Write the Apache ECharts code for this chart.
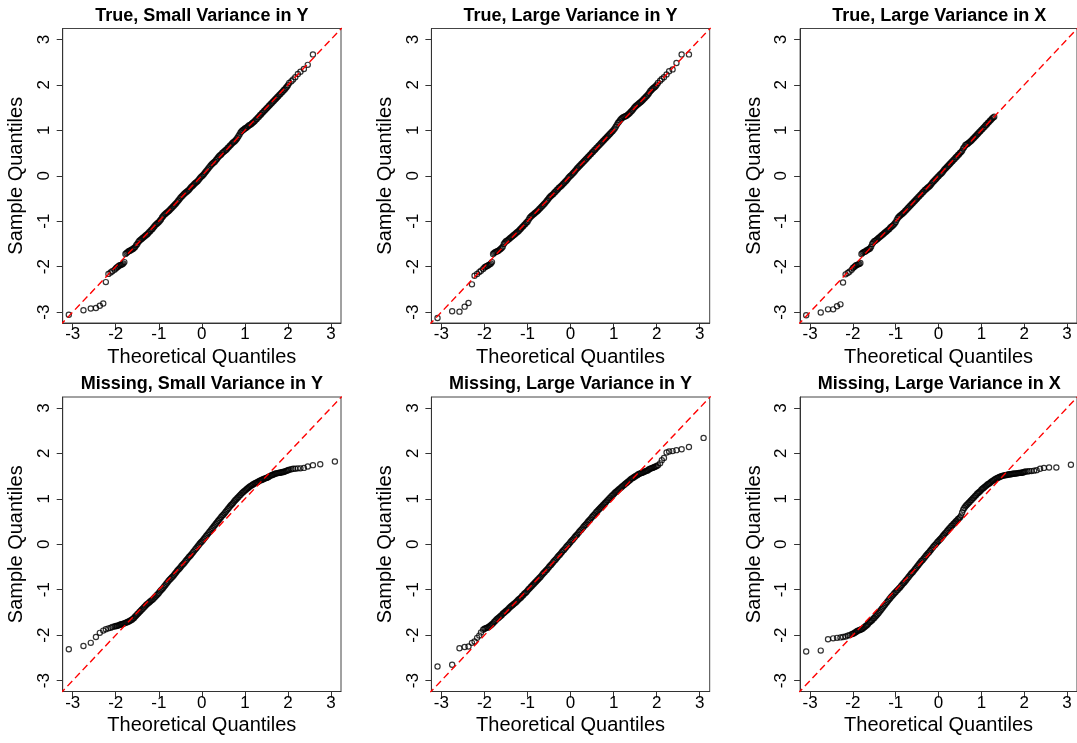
<!DOCTYPE html>
<html><head><meta charset="utf-8">
<script src="https://cdn.jsdelivr.net/npm/echarts@6/dist/echarts.min.js"></script>
<style>html,body{margin:0;padding:0;background:#fff}#c{width:1077px;height:743px}</style>
</head><body><div id="c"></div>
<script>
const panelTitles = [
  'True, Small Variance in Y', 'True, Large Variance in Y', 'True, Large Variance in X',
  'Missing, Small Variance in Y', 'Missing, Large Variance in Y', 'Missing, Large Variance in X'
];
const tickValues = [-3, -2, -1, 0, 1, 2, 3];
const xAxisName = 'Theoretical Quantiles';
const yAxisName = 'Sample Quantiles';

// theoretical quantiles (x positions)
const theo = [
  -3.09,-2.75,-2.58,-2.46,-2.37,-2.29,-2.23,-2.17,-2.12,-2.08,-2.03,
  -2.00,-1.95,-1.90,-1.85,-1.80,-1.75,-1.70,-1.65,-1.60,-1.55,
  -1.50,-1.45,-1.40,-1.35,-1.30,-1.25,-1.20,-1.15,-1.10,-1.05,
  -1.00,-0.95,-0.90,-0.85,-0.80,-0.75,-0.70,-0.65,-0.60,-0.55,
  -0.50,-0.45,-0.40,-0.35,-0.30,-0.25,-0.20,-0.15,-0.10,-0.05,
  0.00,0.05,0.10,0.15,0.20,0.25,0.30,0.35,0.40,0.45,
  0.50,0.55,0.60,0.65,0.70,0.75,0.80,0.85,0.90,0.95,
  1.00,1.05,1.10,1.15,1.20,1.25,1.30,1.35,1.40,1.45,
  1.50,1.55,1.60,1.65,1.70,1.75,1.80,1.85,1.90,1.95,
  2.00,
  2.03,2.08,2.12,2.17,2.23,2.29,2.37,2.46,2.58,2.75,3.09
];
// extra theoretical quantiles in the dense central band
const theoMid = [
  -1.975,-1.925,-1.875,-1.825,-1.775,-1.725,-1.675,-1.625,-1.575,-1.525,
  -1.475,-1.425,-1.375,-1.325,-1.275,-1.225,-1.175,-1.125,-1.075,-1.025,
  -0.975,-0.925,-0.875,-0.825,-0.775,-0.725,-0.675,-0.625,-0.575,-0.525,
  -0.475,-0.425,-0.375,-0.325,-0.275,-0.225,-0.175,-0.125,-0.075,-0.025,
  0.025,0.075,0.125,0.175,0.225,0.275,0.325,0.375,0.425,0.475,
  0.525,0.575,0.625,0.675,0.725,0.775,0.825,0.875,0.925,0.975,
  1.025,1.075,1.125,1.175,1.225,1.275,1.325,1.375,1.425,1.475,
  1.525,1.575,1.625,1.675,1.725,1.775,1.825,1.875,1.925,1.975
];

const sampleTrueSmallY = [
  -3.06,-2.96,-2.92,-2.91,-2.86,-2.81,-2.34,-2.16,-2.13,-2.10,-2.07,
  -2.04,-2.00,-1.97,-1.95,-1.90,-1.70,-1.66,-1.64,-1.61,-1.57,
  -1.50,-1.43,-1.39,-1.35,-1.31,-1.27,-1.22,-1.17,-1.11,-1.06,
  -1.02,-0.96,-0.89,-0.84,-0.80,-0.76,-0.71,-0.66,-0.61,-0.55,
  -0.49,-0.44,-0.39,-0.35,-0.31,-0.25,-0.21,-0.16,-0.12,-0.06,
  -0.01,0.04,0.10,0.16,0.22,0.27,0.31,0.37,0.43,0.47,
  0.52,0.56,0.61,0.66,0.71,0.75,0.80,0.87,0.95,1.00,
  1.04,1.07,1.11,1.14,1.18,1.23,1.28,1.33,1.38,1.43,
  1.48,1.53,1.58,1.63,1.68,1.73,1.78,1.83,1.88,1.93,
  1.99,
  2.04,2.08,2.12,2.17,2.24,2.29,2.35,2.44,2.67,null,null
];
const sampleTrueSmallYMid = [
  -2.02,-1.98,-1.96,-1.93,-1.72,-1.68,-1.65,-1.62,-1.59,-1.53,
  -1.46,-1.41,-1.37,-1.33,-1.29,-1.24,-1.19,-1.14,-1.08,-1.04,
  -0.99,-0.92,-0.86,-0.82,-0.78,-0.73,-0.68,-0.63,-0.58,-0.52,
  -0.46,-0.41,-0.37,-0.33,-0.28,-0.23,-0.18,-0.14,-0.09,-0.03,
  0.01,0.07,0.13,0.19,0.25,0.29,0.34,0.40,0.45,0.50,
  0.54,0.58,0.63,0.68,0.73,0.77,0.83,0.91,0.98,1.02,
  1.05,1.09,1.12,1.16,1.20,1.25,1.30,1.35,1.40,1.45,
  1.50,1.55,1.60,1.65,1.70,1.75,1.80,1.85,1.90,1.96
];
const sampleTrueLargeY = [
  -3.13,-2.98,-2.99,-2.88,-2.80,-2.39,-2.20,-2.16,-2.12,-2.09,-2.05,
  -2.02,-1.99,-1.96,-1.93,-1.72,-1.68,-1.66,-1.63,-1.59,-1.50,
  -1.44,-1.41,-1.37,-1.33,-1.29,-1.25,-1.21,-1.16,-1.11,-1.06,
  -1.01,-0.93,-0.88,-0.84,-0.80,-0.76,-0.71,-0.66,-0.61,-0.55,
  -0.49,-0.44,-0.40,-0.35,-0.30,-0.25,-0.21,-0.16,-0.11,-0.05,
  0.00,0.05,0.10,0.16,0.21,0.26,0.31,0.36,0.41,0.46,
  0.51,0.56,0.61,0.66,0.71,0.76,0.81,0.86,0.91,0.96,
  1.01,1.08,1.16,1.22,1.27,1.30,1.32,1.36,1.41,1.46,
  1.52,1.56,1.60,1.64,1.69,1.74,1.79,1.86,1.91,1.95,
  2.00,
  2.04,2.09,2.13,2.17,2.23,2.30,2.34,2.48,2.67,2.67,null
];
const sampleTrueLargeYMid = [
  -2.00,-1.98,-1.95,-1.90,-1.70,-1.67,-1.65,-1.61,-1.56,-1.47,
  -1.43,-1.39,-1.35,-1.31,-1.27,-1.23,-1.18,-1.13,-1.08,-1.03,
  -0.97,-0.90,-0.86,-0.82,-0.78,-0.73,-0.68,-0.63,-0.58,-0.52,
  -0.46,-0.42,-0.37,-0.32,-0.27,-0.23,-0.18,-0.13,-0.08,-0.02,
  0.02,0.07,0.13,0.18,0.23,0.28,0.33,0.38,0.43,0.48,
  0.53,0.58,0.63,0.68,0.73,0.78,0.83,0.88,0.93,0.98,
  1.04,1.12,1.19,1.25,1.29,1.31,1.34,1.38,1.43,1.49,
  1.54,1.58,1.62,1.66,1.71,1.76,1.82,1.88,1.93,1.97
];
const sampleTrueLargeX = [
  -3.07,-3.01,-2.94,-2.94,-2.87,-2.83,-2.35,-2.17,-2.14,-2.11,-2.07,
  -2.03,-1.99,-1.96,-1.94,-1.72,-1.68,-1.66,-1.63,-1.60,-1.50,
  -1.44,-1.41,-1.37,-1.33,-1.29,-1.25,-1.21,-1.17,-1.12,-1.08,
  -1.02,-0.93,-0.88,-0.84,-0.80,-0.75,-0.70,-0.65,-0.60,-0.55,
  -0.50,-0.45,-0.40,-0.35,-0.30,-0.26,-0.22,-0.16,-0.11,-0.06,
  -0.01,0.04,0.09,0.15,0.20,0.25,0.30,0.35,0.40,0.45,
  0.50,0.55,0.63,0.69,0.72,0.76,0.81,0.86,0.91,0.96,
  1.01,1.06,1.11,1.16,1.21,1.26,1.30,null,null,null,
  null,null,null,null,null,null,null,null,null,null,
  null,
  null,null,null,null,null,null,null,null,null,null,null
];
const sampleTrueLargeXMid = [
  -2.01,-1.97,-1.95,-1.92,-1.70,-1.67,-1.64,-1.61,-1.56,-1.47,
  -1.43,-1.39,-1.35,-1.31,-1.27,-1.23,-1.19,-1.14,-1.10,-1.05,
  -0.97,-0.90,-0.86,-0.82,-0.77,-0.72,-0.67,-0.62,-0.57,-0.52,
  -0.47,-0.42,-0.37,-0.32,-0.28,-0.24,-0.19,-0.13,-0.08,-0.03,
  0.02,0.06,0.12,0.17,0.22,0.27,0.32,0.37,0.42,0.47,
  0.52,0.60,0.67,0.70,0.74,0.78,0.83,0.88,0.93,0.98,
  1.03,1.08,1.13,1.18,1.23,1.28,null,null,null,null,
  null,null,null,null,null,null,null,null,null,null
];
const sampleMissingSmallY = [
  -2.31,-2.24,-2.17,-2.04,-1.95,-1.90,-1.87,-1.85,-1.84,-1.82,-1.81,
  -1.80,-1.79,-1.77,-1.76,-1.74,-1.72,-1.70,-1.67,-1.64,-1.59,
  -1.54,-1.49,-1.44,-1.39,-1.34,-1.30,-1.26,-1.22,-1.17,-1.12,
  -1.07,-1.01,-0.96,-0.90,-0.84,-0.78,-0.73,-0.68,-0.62,-0.56,
  -0.51,-0.45,-0.40,-0.34,-0.28,-0.23,-0.17,-0.11,-0.05,0.01,
  0.06,0.12,0.18,0.24,0.30,0.36,0.42,0.48,0.54,0.60,
  0.65,0.71,0.77,0.83,0.88,0.94,0.99,1.04,1.09,1.14,
  1.18,1.22,1.26,1.29,1.32,1.35,1.37,1.40,1.42,1.44,
  1.46,1.48,1.51,1.53,1.55,1.56,1.57,1.58,1.59,1.61,
  1.63,
  1.64,1.65,1.66,1.66,1.67,1.67,1.68,1.71,1.74,1.76,1.82
];
const sampleMissingSmallYMid = [
  -1.80,-1.78,-1.76,-1.75,-1.73,-1.71,-1.69,-1.66,-1.62,-1.57,
  -1.52,-1.47,-1.42,-1.37,-1.32,-1.28,-1.24,-1.20,-1.15,-1.10,
  -1.04,-0.99,-0.93,-0.87,-0.81,-0.76,-0.71,-0.65,-0.59,-0.54,
  -0.48,-0.43,-0.37,-0.31,-0.26,-0.20,-0.14,-0.08,-0.02,0.04,
  0.09,0.15,0.21,0.27,0.33,0.39,0.45,0.51,0.57,0.63,
  0.68,0.74,0.80,0.86,0.91,0.97,1.02,1.07,1.12,1.16,
  1.20,1.24,1.28,1.31,1.34,1.36,1.39,1.41,1.43,1.45,
  1.47,1.50,1.52,1.54,1.56,1.57,1.58,1.59,1.60,1.62
];
const sampleMissingLargeY = [
  -2.69,-2.65,-2.29,-2.26,-2.25,-2.17,-2.14,-2.06,-2.01,-1.94,-1.88,
  -1.86,-1.84,-1.82,-1.78,-1.74,-1.69,-1.64,-1.60,-1.56,-1.51,
  -1.47,-1.43,-1.38,-1.34,-1.30,-1.26,-1.21,-1.17,-1.12,-1.07,
  -1.02,-0.97,-0.92,-0.87,-0.82,-0.77,-0.72,-0.66,-0.61,-0.56,
  -0.50,-0.45,-0.39,-0.34,-0.28,-0.23,-0.17,-0.12,-0.06,-0.01,
  0.05,0.10,0.16,0.21,0.27,0.32,0.38,0.43,0.49,0.54,
  0.60,0.65,0.71,0.76,0.81,0.86,0.91,0.96,1.01,1.06,
  1.10,1.15,1.19,1.23,1.27,1.31,1.35,1.39,1.43,1.46,
  1.49,1.52,1.55,1.57,1.59,1.61,1.63,1.66,1.68,1.70,
  1.72,
  1.74,1.78,1.85,1.90,2.02,2.04,2.05,2.07,2.09,2.14,2.34
];
const sampleMissingLargeYMid = [
  -1.85,-1.83,-1.80,-1.76,-1.71,-1.66,-1.62,-1.58,-1.53,-1.49,
  -1.45,-1.40,-1.36,-1.32,-1.28,-1.23,-1.19,-1.14,-1.09,-1.05,
  -0.99,-0.94,-0.89,-0.84,-0.79,-0.74,-0.69,-0.63,-0.58,-0.53,
  -0.47,-0.42,-0.36,-0.31,-0.25,-0.20,-0.14,-0.09,-0.03,0.02,
  0.08,0.13,0.19,0.24,0.30,0.35,0.41,0.46,0.52,0.57,
  0.63,0.68,0.73,0.78,0.83,0.88,0.93,0.98,1.03,1.08,
  1.13,1.17,1.21,1.25,1.29,1.33,1.37,1.41,1.45,1.48,
  1.51,1.54,1.56,1.58,1.60,1.62,1.65,1.67,1.69,1.71
];
const sampleMissingLargeX = [
  -2.36,-2.34,-2.09,-2.07,-2.06,-2.05,-2.04,-2.03,-2.01,-2.00,-1.98,
  -1.97,-1.94,-1.91,-1.89,-1.87,-1.84,-1.80,-1.76,-1.71,-1.67,
  -1.62,-1.57,-1.51,-1.45,-1.39,-1.33,-1.27,-1.21,-1.15,-1.10,
  -1.05,-1.00,-0.95,-0.89,-0.84,-0.78,-0.72,-0.66,-0.61,-0.55,
  -0.49,-0.43,-0.37,-0.32,-0.26,-0.20,-0.15,-0.09,-0.03,0.02,
  0.07,0.12,0.18,0.24,0.29,0.35,0.40,0.45,0.50,0.55,
  0.59,0.70,0.80,0.86,0.91,0.96,1.01,1.06,1.11,1.15,
  1.20,1.24,1.28,1.32,1.35,1.39,1.42,1.45,1.47,1.49,
  1.51,1.52,1.53,1.54,1.54,1.55,1.56,1.56,1.57,1.58,
  1.59,
  1.60,1.60,1.61,1.61,1.62,1.63,1.66,1.68,1.69,1.69,1.75
];
const sampleMissingLargeXMid = [
  -1.96,-1.93,-1.90,-1.88,-1.86,-1.82,-1.78,-1.73,-1.69,-1.64,
  -1.59,-1.54,-1.48,-1.42,-1.36,-1.30,-1.24,-1.18,-1.13,-1.07,
  -1.02,-0.97,-0.92,-0.86,-0.81,-0.75,-0.69,-0.63,-0.58,-0.52,
  -0.46,-0.40,-0.35,-0.29,-0.23,-0.18,-0.12,-0.06,-0.01,0.05,
  0.10,0.15,0.21,0.26,0.32,0.37,0.42,0.47,0.52,0.57,
  0.63,0.76,0.83,0.88,0.93,0.98,1.03,1.08,1.13,1.17,
  1.22,1.26,1.30,1.33,1.37,1.40,1.43,1.46,1.48,1.50,
  1.51,1.52,1.53,1.54,1.55,1.55,1.56,1.57,1.57,1.58
];
const referenceLine = [[-4, -4], [4, 4]];

const panelSamples = [
  [sampleTrueSmallY, sampleTrueSmallYMid],
  [sampleTrueLargeY, sampleTrueLargeYMid],
  [sampleTrueLargeX, sampleTrueLargeXMid],
  [sampleMissingSmallY, sampleMissingSmallYMid],
  [sampleMissingLargeY, sampleMissingLargeYMid],
  [sampleMissingLargeX, sampleMissingLargeXMid]
];

const FONT = 'Liberation Sans';
const colLeft = [62.7, 431.4, 800.1];
const rowTop = [28.5, 397];
const W = 278.3, H = 294.5;

function pairs(xs, ys) {
  const out = [];
  for (let k = 0; k < xs.length; k++) {
    if (ys[k] !== null && ys[k] !== undefined) out.push([xs[k], ys[k]]);
  }
  return out;
}

const grids = [], xAxes = [], yAxes = [], titles = [], series = [];
for (let i = 0; i < 6; i++) {
  const r = Math.floor(i / 3), c = i % 3;
  grids.push({left: colLeft[c], top: rowTop[r], width: W, height: H,
    show: true, borderColor: '#444', borderWidth: 1, backgroundColor: 'transparent'});
  titles.push({text: panelTitles[i], left: colLeft[c] + W / 2, top: rowTop[r] - 21.5,
    textAlign: 'center', padding: 0,
    textStyle: {fontFamily: FONT, fontSize: 18, fontWeight: 'bold', color: '#000'}});
  xAxes.push({type: 'value', gridIndex: i, min: -3.232, max: 3.232,
    axisLine: {show: true, onZero: false, lineStyle: {color: '#333', width: 1}},
    axisTick: {show: true, length: 6, customValues: tickValues, lineStyle: {color: '#333'}},
    axisLabel: {customValues: tickValues, fontFamily: FONT, fontSize: 17, color: '#000', margin: 3},
    splitLine: {show: false},
    name: xAxisName, nameLocation: 'middle', nameGap: 24,
    nameTextStyle: {fontFamily: FONT, fontSize: 20, color: '#000'}});
  yAxes.push({type: 'value', gridIndex: i, min: -3.24, max: 3.24,
    axisLine: {show: true, onZero: false, lineStyle: {color: '#333', width: 1}},
    axisTick: {show: true, length: 6, customValues: tickValues, lineStyle: {color: '#333'}},
    axisLabel: {customValues: tickValues, rotate: 90, fontFamily: FONT, fontSize: 17, color: '#000', margin: 10},
    splitLine: {show: false},
    name: yAxisName, nameLocation: 'middle', nameGap: 36, nameRotate: 90,
    nameTextStyle: {fontFamily: FONT, fontSize: 20, color: '#000'}});
  const pts = pairs(theo, panelSamples[i][0]).concat(pairs(theoMid, panelSamples[i][1]));
  series.push({type: 'scatter', xAxisIndex: i, yAxisIndex: i, data: pts, symbol: 'circle', symbolSize: 5.2,
    clip: true, silent: true, z: 2,
    itemStyle: {color: 'rgba(0,0,0,0)', borderColor: '#000', borderWidth: 1.2}});
  series.push({type: 'line', xAxisIndex: i, yAxisIndex: i, data: referenceLine, symbol: 'none',
    clip: true, silent: true, z: 3,
    lineStyle: {color: '#ff0000', width: 1.4, type: [7, 4]}});
}

const chart = echarts.init(document.getElementById('c'), null, {renderer: 'canvas'});
chart.setOption({
  animation: false,
  backgroundColor: '#fff',
  textStyle: {fontFamily: FONT},
  title: titles, grid: grids, xAxis: xAxes, yAxis: yAxes, series: series
});
</script></body></html>
